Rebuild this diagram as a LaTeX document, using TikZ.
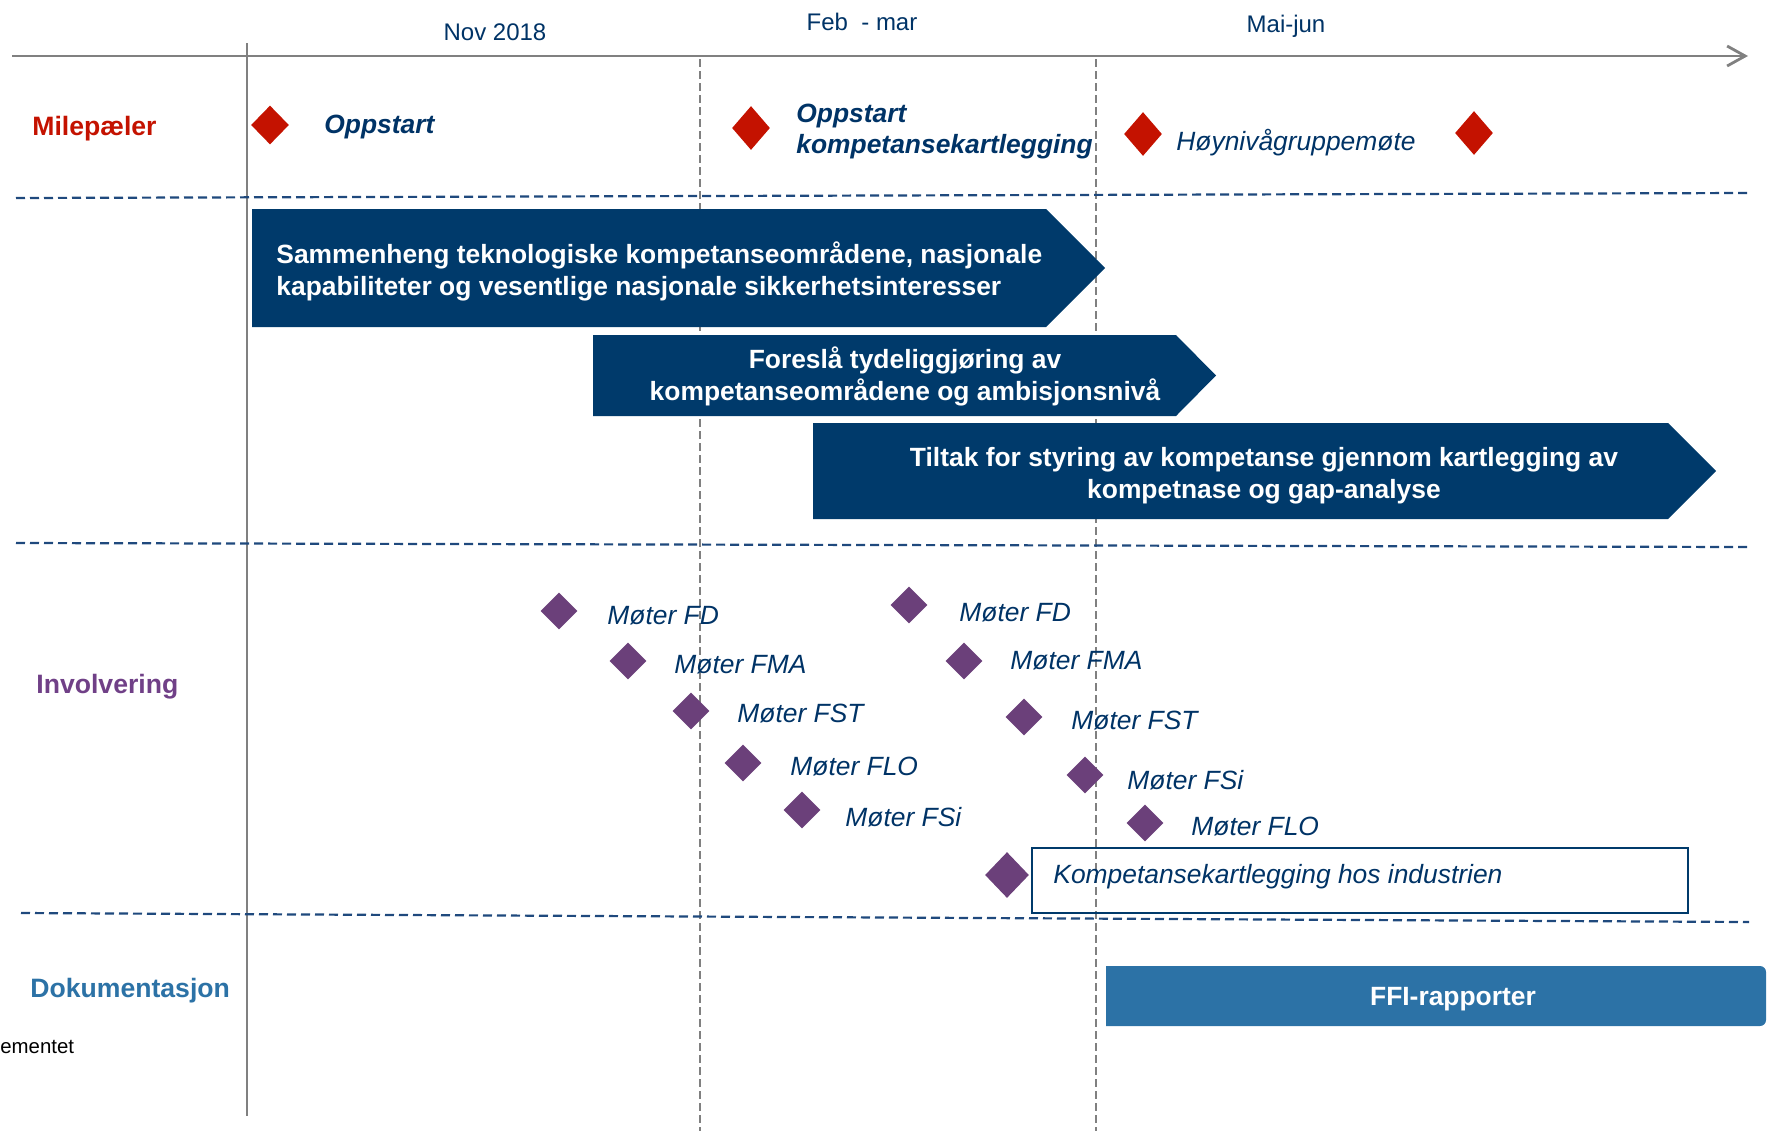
\documentclass[tikz,border=0pt]{standalone}
\usepackage{fontspec}
\setmainfont{Liberation Sans}
\usetikzlibrary{arrows.meta,shapes.geometric}
\definecolor{navy}{RGB}{0,58,107}
\definecolor{txtblue}{RGB}{0,51,102}
\definecolor{msred}{RGB}{196,18,0}
\definecolor{purp}{RGB}{107,64,122}
\definecolor{invpurp}{RGB}{112,64,135}
\definecolor{docblue}{RGB}{44,114,166}
\definecolor{sepblue}{RGB}{31,73,125}
\definecolor{axgray}{RGB}{128,128,128}
\begin{document}
\begin{tikzpicture}[x=0.5pt,y=-0.5pt,
  hdr/.style={font=\fontsize{12}{14}\selectfont, text=txtblue, inner sep=0pt},
  sidelbl/.style={font=\fontsize{13.3}{16}\selectfont\bfseries, inner sep=0pt, anchor=west},
  mstext/.style={font=\fontsize{13.2}{15.5}\selectfont\bfseries\itshape, text=txtblue, inner sep=0pt, anchor=west, align=left},
  meettext/.style={font=\fontsize{13.2}{15.5}\selectfont\itshape, text=txtblue, inner sep=0pt, anchor=west},
  arrtext/.style={font=\fontsize{13.2}{16}\selectfont\bfseries, text=white, inner sep=0pt},
  reddia/.style={diamond, fill=msred, inner sep=0pt, minimum width=19pt, minimum height=22pt},
  purdia/.style={diamond, fill=purp, inner sep=0pt, minimum width=18.5pt, minimum height=18.5pt},
  vsolid/.style={axgray, line width=1pt},
  vdash/.style={axgray, line width=0.9pt, dash pattern=on 4pt off 2pt},
  sepline/.style={sepblue, line width=1.1pt, dash pattern=on 4.5pt off 2.5pt},
  bandarrow/.style={fill=navy}
]
\useasboundingbox (0,0) rectangle (1767,1131);

% grid lines
\coordinate (ax0) at (12,56);
\coordinate (ax1) at (1748,56);
\coordinate (vs0) at (247,43);
\coordinate (vs1) at (247,1116);
\coordinate (vd0) at (700,59);
\coordinate (vd1) at (700,1131);
\coordinate (ve0) at (1096,59);
\coordinate (ve1) at (1096,1131);
\draw[vsolid] (vs0) -- (vs1);
\draw[vdash] (vd0) -- (vd1);
\draw[vdash] (ve0) -- (ve1);
\draw[axgray, line width=1.4pt, -{Straight Barb[length=9pt,width=10pt]}] (ax0) -- (ax1);

\coordinate (s1a) at (16,198);   \coordinate (s1b) at (1747,193);
\coordinate (s2a) at (16,543);   \coordinate (s2b) at (1747,547);
\coordinate (s3a) at (21,913);   \coordinate (s3b) at (1749,922);
\draw[sepline] (s1a) -- (s1b);
\draw[sepline] (s2a) -- (s2b);
\draw[sepline] (s3a) -- (s3b);

% headers
\node[hdr] (h1) at (495,32) {Nov 2018};
\node[hdr] (h2) at (862,22) {Feb~\ - mar};
\node[hdr] (h3) at (1286,26) {Mai-jun};

% side labels
\node[sidelbl, text=msred] (l1) at (32,128.5) {Milepæler};
\node[sidelbl, text=invpurp] (l2) at (36,686.5) {Involvering};
\node[sidelbl, text=docblue] (l3) at (30,990.5) {Dokumentasjon};
\node[font=\fontsize{10.2}{12}\selectfont, inner sep=0pt, anchor=west] (l4) at (0,1047) {ementet};

% milestones
\node[reddia, minimum height=19.5pt] (m1) at (270,125) {};
\node[reddia] (m2) at (751,128) {};
\node[reddia] (m3) at (1143,134) {};
\node[reddia] (m4) at (1474,133) {};
\node[mstext] (mt1) at (324,127.5) {Oppstart};
\node[mstext] (mt2) at (796,132) {Oppstart\\kompetansekartlegging};
\node[meettext] (mt3) at (1176,143) {Høynivågruppemøte};

% band arrows
\fill[bandarrow] (252,209) -- (1046,209) -- (1105,268) -- (1046,327) -- (252,327) -- cycle;
\fill[bandarrow] (593,335) -- (1176,335) -- (1216,375.5) -- (1176,416) -- (593,416) -- cycle;
\fill[bandarrow] (813,423) -- (1668,423) -- (1716,471) -- (1668,519) -- (813,519) -- cycle;
\node[arrtext, anchor=west, align=left] (a1) at (276,271) {Sammenheng teknologiske kompetanseområdene, nasjonale\\kapabiliteter og vesentlige nasjonale sikkerhetsinteresser};
\node[arrtext, align=center] (a2) at (905,376.5) {Foreslå tydeliggjøring av\\kompetanseområdene og ambisjonsnivå};
\node[arrtext, align=center] (a3) at (1264,475.5) {Tiltak for styring av kompetanse gjennom kartlegging av\\kompetnase og gap-analyse};

% involvement
\node[purdia] (p1) at (559,611) {};
\node[purdia] (p2) at (628,661) {};
\node[purdia] (p3) at (691,711) {};
\node[purdia] (p4) at (743,763) {};
\node[purdia] (p5) at (802,810) {};
\node[purdia] (p6) at (909,605) {};
\node[purdia] (p7) at (964,661) {};
\node[purdia] (p8) at (1024,717) {};
\node[purdia] (p9) at (1085,775) {};
\node[purdia] (p10) at (1145,823) {};
\node[purdia, minimum width=22pt, minimum height=23pt] (p11) at (1007,875) {};

\node[meettext] (t1) at (607,616) {Møter FD};
\node[meettext] (t2) at (674,665) {Møter FMA};
\node[meettext] (t3) at (737,714) {Møter FST};
\node[meettext] (t4) at (790,767) {Møter FLO};
\node[meettext] (t5) at (845,817.5) {Møter FSi};
\node[meettext] (t6) at (959,613) {Møter FD};
\node[meettext] (t7) at (1010,661) {Møter FMA};
\node[meettext] (t8) at (1071,721) {Møter FST};
\node[meettext] (t9) at (1127,780.5) {Møter FSi};
\node[meettext] (t10) at (1191,827) {Møter FLO};

\node[draw=navy, line width=1pt, minimum width=328pt, minimum height=32.5pt, inner sep=0pt] (kb) at (1360,880.5) {};
\node[meettext] (kt) at (1053,877) {Kompetansekartlegging hos industrien};

% documentation
\fill[docblue] (1106,966) [rounded corners=3pt] -- (1766,966) -- (1766,1026) [sharp corners] -- (1106,1026) -- cycle;
\node[arrtext] (ffi) at (1453,999) {FFI-rapporter};
\end{tikzpicture}
\end{document}
